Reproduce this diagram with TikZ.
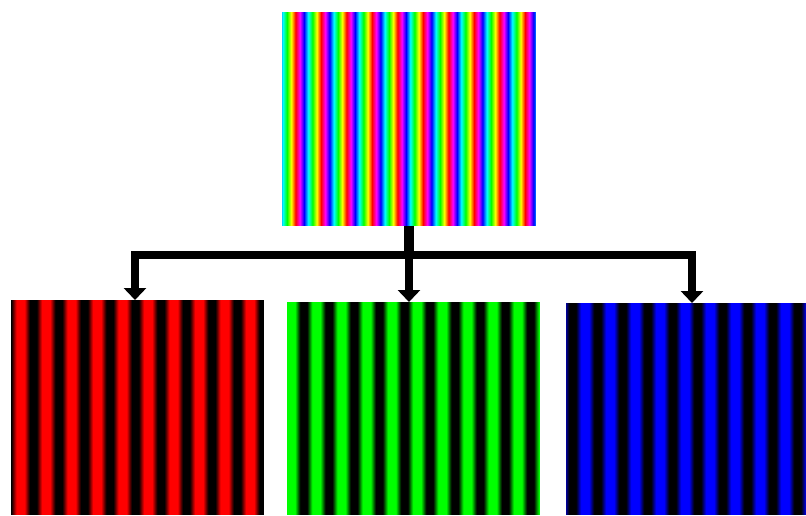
\documentclass[tikz,border=0pt]{standalone}
\usepackage{xcolor}
\usetikzlibrary{arrows.meta,positioning}

\begin{document}
\begin{tikzpicture}[
  x=1pt, y=-1pt,
  panel/.style={rectangle, inner sep=0pt, outer sep=0pt},
  link/.style={line width=8pt, line join=miter},
  arrow/.style={link, -{Triangle[length=12pt,width=22pt]}},
]
  \useasboundingbox (0,0) rectangle (806,515);

  \node[panel, minimum width=254pt, minimum height=214pt] (mixed) at (409,119) {};
  \node[panel, minimum width=253pt, minimum height=215pt] (red) at (137.5,407.5) {};
  \node[panel, minimum width=253pt, minimum height=213pt] (green) at (413.5,408.5) {};
  \node[panel, minimum width=240pt, minimum height=212pt] (blue) at (686,409) {};

  % hue stripes
  \foreach \i in {0,...,253}{
    \pgfmathsetmacro\hue{mod(mod(120-(\i-5)/25.5*360,360)+360,360)/360}
    \definecolor{stripe}{hsb}{\hue,1,1}
    \fill[stripe] ([xshift=\i pt]mixed.north west) rectangle ([xshift=\i pt+1.2pt]mixed.south west);
  }
  % channels
  \foreach \i in {0,...,252}{
    \pgfmathsetmacro\lev{max(0,min(1,0.55+0.8*cos((\i-9.5)/25.5*360)))}
    \definecolor{stripe}{rgb}{\lev,0,0}
    \fill[stripe] ([xshift=\i pt]red.north west) rectangle ([xshift=\i pt+1.2pt]red.south west);
  }
  \foreach \i in {0,...,252}{
    \pgfmathsetmacro\lev{max(0,min(1,0.55+0.8*cos((\i-4)/25.2*360)))}
    \definecolor{stripe}{rgb}{0,\lev,0}
    \fill[stripe] ([xshift=\i pt]green.north west) rectangle ([xshift=\i pt+1.2pt]green.south west);
  }
  \foreach \i in {0,...,239}{
    \pgfmathsetmacro\lev{max(0,min(1,0.55+0.8*cos((\i-19)/25*360)))}
    \definecolor{stripe}{rgb}{0,0,\lev}
    \fill[stripe] ([xshift=\i pt]blue.north west) rectangle ([xshift=\i pt+1.2pt]blue.south west);
  }

  \coordinate (split) at (409,255);
  \draw[link, line width=10pt] (mixed.south) -- (split);
  \draw[arrow] (split) -| ([xshift=-2.5pt]red.north);
  \draw[arrow] (split) -- ([xshift=-4.5pt]green.north);
  \draw[arrow] (split) -| ([xshift=6pt]blue.north);
\end{tikzpicture}
\end{document}
